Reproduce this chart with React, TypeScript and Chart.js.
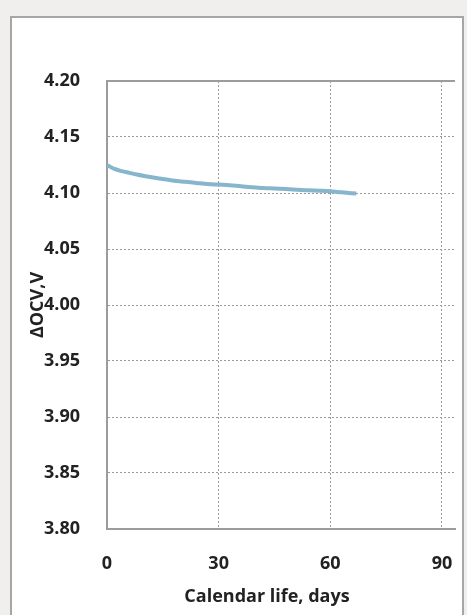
import React, { useEffect, useRef } from "react";
import { Chart, registerables } from "chart.js";

Chart.register(...registerables);

const days = [0, 2, 4, 6, 8, 10, 12, 15, 18, 21, 24, 27, 30, 33, 36, 39, 42, 45, 48, 51, 54, 57, 60, 63, 67];
const ocv = [4.125, 4.1215, 4.1195, 4.118, 4.1165, 4.1152, 4.114, 4.1125, 4.111, 4.11, 4.109, 4.108, 4.1075, 4.107, 4.106, 4.1052, 4.1045, 4.104, 4.1035, 4.103, 4.1024, 4.102, 4.1015, 4.1006, 4.0995];
const xTicks = [0, 30, 60, 90];
const yTicks = [3.8, 3.85, 3.9, 3.95, 4.0, 4.05, 4.1, 4.15, 4.2];
const xTitle = "Calendar life, days";
const yTitle = "ΔOCV,V";

const FONT = "'Open Sans', sans-serif";

const framePlugin = {
  id: "frame",
  beforeDraw(chart: any) {
    const { ctx, width, height } = chart;
    ctx.save();
    ctx.fillStyle = "#f0efed";
    ctx.fillRect(0, 0, width, height);
    ctx.fillStyle = "#ffffff";
    ctx.fillRect(10, 16, 454, height);
    ctx.strokeStyle = "#a6a6a6";
    ctx.lineWidth = 2;
    ctx.strokeRect(11, 17, 452, height + 10);
    ctx.restore();
  },
  afterDatasetsDraw(chart: any) {
    const { ctx, chartArea } = chart;
    ctx.save();
    ctx.strokeStyle = "#9c9c9c";
    ctx.lineWidth = 2;
    ctx.beginPath();
    ctx.moveTo(chartArea.left, chartArea.top);
    ctx.lineTo(chartArea.right, chartArea.top);
    ctx.stroke();
    ctx.fillStyle = "#222";
    ctx.font = `bold 18px ${FONT}`;
    ctx.textAlign = "center";
    ctx.textBaseline = "middle";
    ctx.fillText(xTitle, 267, 597);
    ctx.translate(38, 305);
    ctx.rotate(-Math.PI / 2);
    ctx.fillText(yTitle, 0, 0);
    ctx.restore();
  },
};

export default function App() {
  const ref = useRef<HTMLCanvasElement>(null);
  useEffect(() => {
    document.body.style.margin = "0";
    const chart = new Chart(ref.current!, {
      type: "line",
      data: {
        datasets: [
          {
            data: days.map((d, i) => ({ x: d, y: ocv[i] })),
            borderColor: "#86b6cc",
            borderWidth: 4,
            pointRadius: 0,
            cubicInterpolationMode: "monotone",
            fill: false,
          },
        ],
      },
      options: {
        animation: false,
        responsive: false,
        devicePixelRatio: 1,
        layout: { padding: { left: 0, top: 81, right: 12, bottom: 0 } },
        plugins: { legend: { display: false }, tooltip: { enabled: false } },
        scales: {
          x: {
            type: "linear",
            min: 0,
            max: 93.5,
            afterFit: (s: any) => {
              s.height = 86;
              s.paddingLeft = 0;
              s.paddingRight = 0;
            },
            afterBuildTicks: (s: any) => {
              s.ticks = xTicks.map((v) => ({ value: v }));
            },
            grid: {
              color: (c: any) => (c.tick && c.tick.value === 0 ? "rgba(0,0,0,0)" : "#9a9a9a"),
              lineWidth: 1,
              drawTicks: false,
            },
            border: { display: true, color: "#9c9c9c", width: 2, dash: [2, 2] } as any,
            ticks: {
              padding: 24,
              color: "#222",
              font: { family: FONT, size: 18, weight: "bold" },
              callback: (v: any) => String(v),
            },
          },
          y: {
            type: "linear",
            min: 3.8,
            max: 4.2,
            afterFit: (s: any) => {
              s.width = 107;
              s.paddingTop = 0;
              s.paddingBottom = 0;
            },
            afterBuildTicks: (s: any) => {
              s.ticks = yTicks.map((v) => ({ value: v }));
            },
            grid: {
              color: (c: any) =>
                c.tick && (c.tick.value <= 3.8 || c.tick.value >= 4.2) ? "rgba(0,0,0,0)" : "#9a9a9a",
              lineWidth: 1,
              drawTicks: false,
            },
            border: { display: true, color: "#9c9c9c", width: 2, dash: [2, 2] } as any,
            ticks: {
              padding: 27,
              color: "#222",
              font: { family: FONT, size: 18, weight: "bold" },
              callback: (v: any) => Number(v).toFixed(2),
            },
          },
        },
      },
      plugins: [framePlugin],
    } as any);
    return () => chart.destroy();
  }, []);
  return (
    <div style={{ width: 467, height: 615 }}>
      <canvas ref={ref} width={467} height={615} style={{ display: "block", width: 467, height: 615 }} />
    </div>
  );
}
